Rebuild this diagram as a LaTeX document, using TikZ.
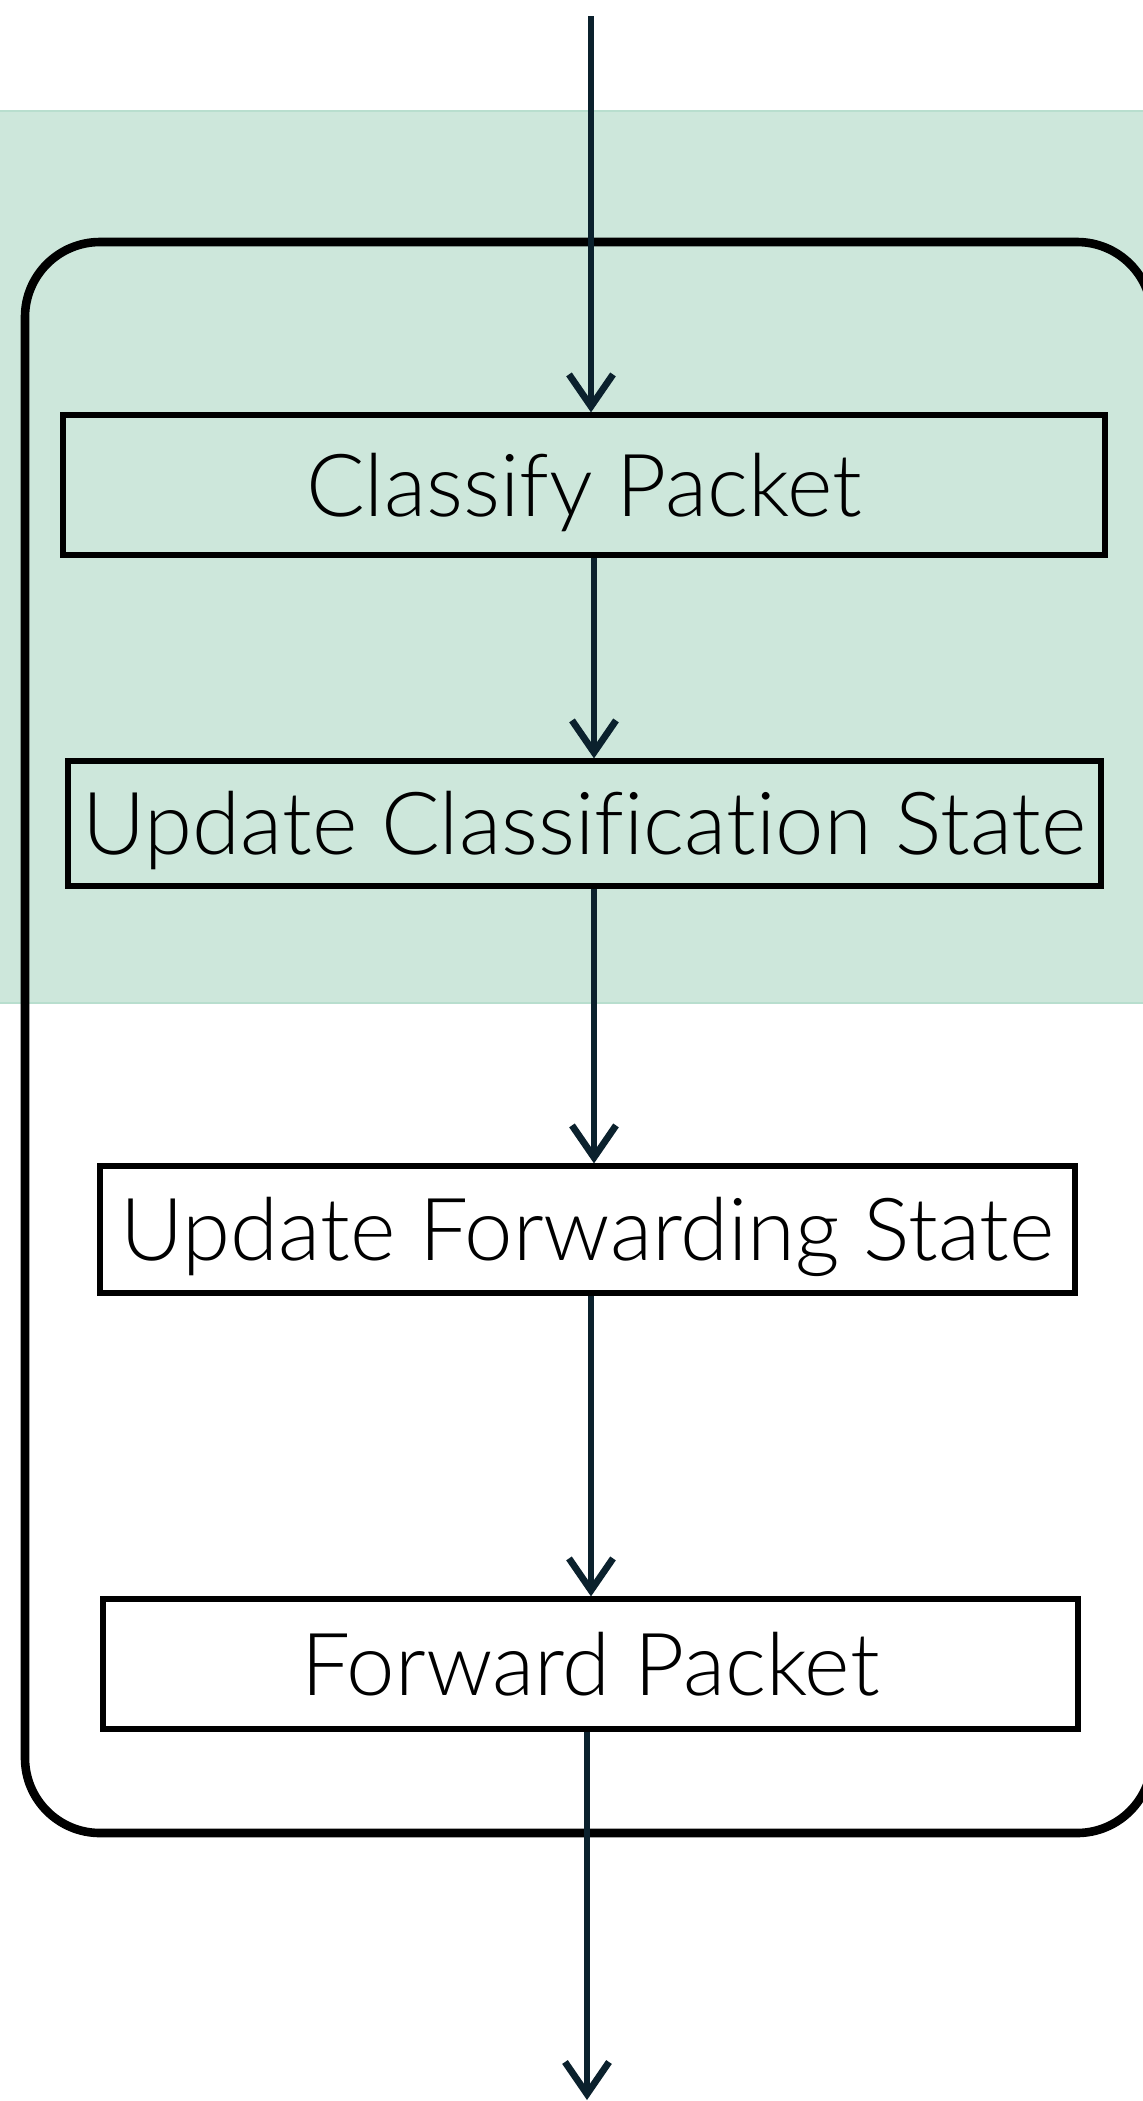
\documentclass[tikz,border=0pt]{standalone}
\usepackage{fontspec}
\setmainfont{Lato}[UprightFont=* Light,Ligatures=CommonOff]
\usetikzlibrary{arrows.meta}
\definecolor{bandgreen}{HTML}{CDE7DB}
\definecolor{bandedge}{HTML}{B8DECE}
\definecolor{navy}{HTML}{0B212D}
\tikzset{
  flow/.style={-{Straight Barb[length=16pt,width=22pt]},line width=3.4pt,navy},
  stage/.style={draw=black,line width=2.6pt,inner sep=0pt,text height=31.2pt,text depth=0pt,
    font=\fontsize{43.5}{50}\selectfont},
  outerbox/.style={draw=black,line width=4.3pt,rounded corners=37.5pt}
}

\begin{document}
\begin{tikzpicture}[x=0.5pt,y=-0.5pt]
\clip (0,0) rectangle (1143,2101);
\fill[white] (0,0) rectangle (1143,2101);
\fill[bandgreen] (0,111) rectangle (1143,1003);
\draw[bandedge,line width=0.8pt] (0,111) -- (1143,111) (0,1003) -- (1143,1003);
\draw[outerbox] (25,242) rectangle (1152,1833);

\node[stage,minimum width=521pt,minimum height=70pt] (cls) at (584,485) {Classify Packet};
\node[stage,minimum width=516.5pt,minimum height=62.5pt] (ucs) at (584.5,823.5) {Update Classification State};
\node[stage,minimum width=487.5pt,minimum height=63.5pt] (ufs) at (587.5,1229.5) {Update Forwarding State};
\node[stage,minimum width=487.5pt,minimum height=65pt] (fwd) at (590.5,1664) {Forward Packet};

\coordinate (in) at (591,16);
\coordinate (out) at (587,2100);
\draw[flow] (in) -- ([xshift=3.5pt]cls.north);
\draw[flow] ([xshift=5pt]cls.south) -- ([xshift=4.75pt]ucs.north);
\draw[flow] ([xshift=4.75pt]ucs.south) -- ([xshift=3.25pt]ufs.north);
\draw[flow] ([xshift=1.75pt]ufs.south) -- ([xshift=0.25pt]fwd.north);
\draw[flow] ([xshift=-1.75pt]fwd.south) -- (out);
\end{tikzpicture}
\end{document}
